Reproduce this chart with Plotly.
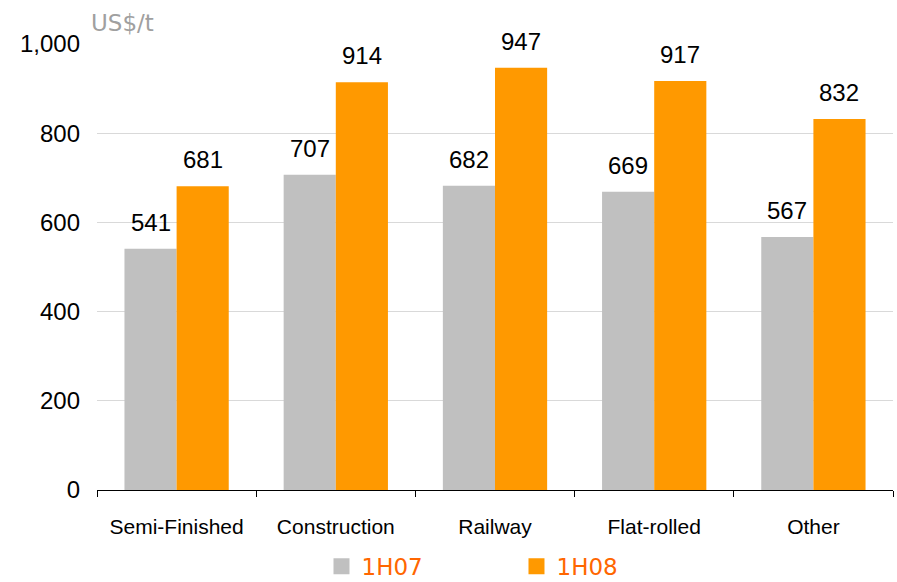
import plotly.graph_objects as go

categories = ["Semi-Finished", "Construction", "Railway", "Flat-rolled", "Other"]
series_1h07 = [541, 707, 682, 669, 567]
series_1h08 = [681, 914, 947, 917, 832]
y_ticks = [0, 200, 400, 600, 800, 1000]
y_tick_labels = ["0", "200", "400", "600", "800", "1,000"]

FONT = "Liberation Sans"
GRAY = "#C0C0C0"
ORANGE = "#FF9900"
LEG = "#FF6600"

fig = go.Figure()
annotations = []
for name, vals, col, shift in [("1H07", series_1h07, GRAY, -26), ("1H08", series_1h08, ORANGE, 26)]:
    fig.add_trace(go.Bar(
        x=categories, y=vals, name=name, marker=dict(color=col, line=dict(width=0)),
        showlegend=False,
    ))
    fig.add_trace(go.Scatter(
        x=[None], y=[None], mode="markers", name=name,
        marker=dict(symbol="square", size=17, color=col), showlegend=True,
    ))
    for c, v in zip(categories, vals):
        annotations.append(dict(x=c, y=v, text=str(v), xshift=shift, yshift=11,
                                xanchor="center", yanchor="bottom", showarrow=False,
                                font=dict(family=FONT, size=24, color="#000000")))

annotations.append(dict(text="US$/t", xref="paper", yref="paper", x=-0.01, y=1.0,
                        xanchor="left", yanchor="bottom", yshift=6, showarrow=False,
                        font=dict(family="DejaVu Sans", size=23, color="#A0A0A0")))

fig.update_layout(
    width=897, height=582,
    margin=dict(l=97, r=4, t=44, b=92, autoexpand=False),
    paper_bgcolor="white", plot_bgcolor="white",
    barmode="group", bargap=0.345, bargroupgap=0,
    font=dict(family=FONT, size=21, color="#000000"),
    legend=dict(orientation="h", x=0.527, xanchor="center",
                yref="container", y=0.027, yanchor="middle",
                font=dict(family="DejaVu Sans", size=23, color=LEG), itemwidth=30,
                traceorder="normal", entrywidth=150),
    xaxis=dict(showline=True, linecolor="#000000", linewidth=1, ticks="outside",
               tickson="boundaries", ticklen=6, tickcolor="#000000",
               tickfont=dict(size=21), ticklabelstandoff=18, showgrid=False),
    yaxis=dict(range=[0, 1000], tickvals=y_ticks, ticktext=y_tick_labels,
               showgrid=True, gridcolor="#D9D9D9", gridwidth=1, zeroline=False,
               showline=False, ticks="", tickfont=dict(size=24), ticklabelstandoff=16),
    annotations=annotations,
)

fig.write_html("out.html")
